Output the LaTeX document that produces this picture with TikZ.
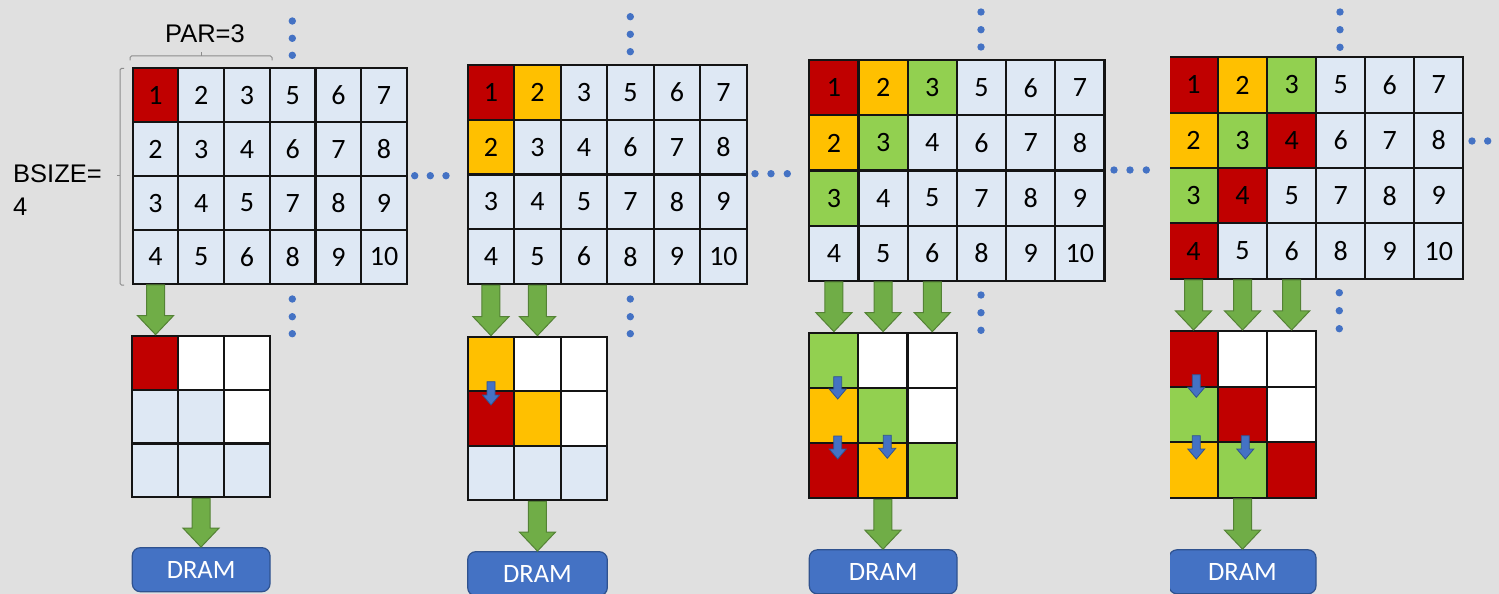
\documentclass[tikz,border=0pt]{standalone}
\usepackage{fontspec}
\setmainfont{Carlito}
\newfontfamily\arialfont{Liberation Sans}
\usetikzlibrary{calc}

\definecolor{bgc}{HTML}{E0E0E0}
\definecolor{cellblue}{HTML}{DEE8F4}
\definecolor{cred}{HTML}{C00000}
\definecolor{corange}{HTML}{FFC000}
\definecolor{cgreen}{HTML}{92D050}
\definecolor{agreen}{HTML}{70AD47}
\definecolor{agreenline}{HTML}{548235}
\definecolor{mblue}{HTML}{4472C4}
\definecolor{mblueline}{HTML}{2F528F}
\definecolor{gridline}{HTML}{141414}
\definecolor{bracec}{HTML}{8C8C8C}
\colorlet{stage0}{cellblue}
\colorlet{stage1}{cred}
\colorlet{stage2}{corange}
\colorlet{stage3}{cgreen}
\colorlet{stage4}{cred}

\tikzset{
  cell/.style={draw=gridline, line width=2.1pt, inner sep=0pt,
    font=\fontsize{28}{30}\selectfont},
  fatarrow/.style={fill=agreen, draw=agreenline, line width=1pt, line join=miter},
  thinarrow/.style={fill=mblue, draw=mblueline, line width=0.8pt},
  bdot/.style={fill=mblue},
  dram/.style={draw=mblueline, fill=mblue, line width=1.2pt, rounded corners=8pt,
    text=white, inner sep=0pt, minimum height=44pt, font=\fontsize{26.5}{28}\selectfont},
  brace/.style={draw=bracec, line width=1pt, rounded corners=1.5pt},
  lbl/.style={font=\arialfont\fontsize{25.5}{28}\selectfont, inner sep=0pt},
}

% 4x6 block of anti-diagonal indices; cells with index <= #6 in the first
% three columns are coloured by their index
\newcommand\biggrid[6]{%
  \foreach \r in {1,...,4}{\foreach \c in {1,...,6}{%
    \pgfmathtruncatemacro\cval{\c<4 ? \r+\c-1 : \r+\c}%
    \pgfmathtruncatemacro\cst{((\c<4) && (\cval<=#6)) ? \cval : 0}%
    \node[cell, fill=stage\cst, minimum width=#4pt, minimum height=#5pt]
      (#1-\r-\c) at ({#2+(\c-0.5)*#4}, {#3+(\r-0.5)*#5}) {\cval};
  }}}

% 3x3 buffer, colours given row by row
\newcommand\smallgrid[6]{%
  \foreach \cc [count=\i from 0] in {#6}{%
    \pgfmathtruncatemacro\srow{int(\i/3)+1}%
    \pgfmathtruncatemacro\scol{mod(\i,3)+1}%
    \node[cell, fill=\cc, minimum width=#4pt, minimum height=#5pt]
      (#1-\srow-\scol) at ({#2+(\scol-0.5)*#4}, {#3+(\srow-0.5)*#5}) {};
  }}

% wide downward block arrow from one anchor to another
\newcommand\fatarrow[2]{%
  \path[fatarrow] let \p1=(#1), \p2=(#2) in
    (\x1-9pt,\y1) -- (\x1-9pt,\y2+19pt) -- (\x1-18pt,\y2+19pt) -- (\x1,\y2)
    -- (\x1+18pt,\y2+19pt) -- (\x1+9pt,\y2+19pt) -- (\x1+9pt,\y1) -- cycle;}

% small blue shift arrow: x, top, tip
\newcommand\shiftarrow[3]{%
  \path[thinarrow] (#1-4,#2) -- (#1-4,#3-10) -- (#1-8.5,#3-10) -- (#1,#3)
    -- (#1+8.5,#3-10) -- (#1+4,#3-10) -- (#1+4,#2) -- cycle;}

\begin{document}
\begin{tikzpicture}[x=1pt, y=-1pt]
\useasboundingbox (0,0) rectangle (1499,594);
\fill[bgc] (0,0) rectangle (1499,594);

% ---------- labels and brackets ----------
\node[lbl, anchor=base] (par) at (205,42.7) {PAR=3};
\node[lbl, anchor=base west] (bsize) at (13,182.7) {BSIZE=};
\node[lbl, anchor=base west] (bsizeval) at (13,215) {4};
\draw[brace] (130,60.5) -- (130,56) -- (272,56) -- (272,60.5);
\draw[brace] (201,56) -- (201,52.5);
\draw[brace] (124,68.3) -- (120,68.3) -- (120,285) -- (124,285);
\draw[brace] (120,175.7) -- (116.5,175.7);

% ---------- step 1 ----------
\biggrid{A}{132.7}{68.3}{45.7}{53.9}{1}
\smallgrid{As}{132.3}{335.7}{45.8}{53.9}{cred,white,white,cellblue,cellblue,white,cellblue,cellblue,cellblue}
\node[dram, minimum width=137.7pt] (Adram) at (201.15,569.7) {DRAM};
\fatarrow{A-4-1.south}{As-1-1.north}
\fatarrow{As-3-2.south}{Adram.north}
\foreach \yy in {21,38.3,55.3} \fill[bdot] (292.3,\yy) circle[radius=3.7pt];
\foreach \yy in {299,316.7,333.7} \fill[bdot] (292.3,\yy) circle[radius=3.7pt];
\foreach \xx in {414.7,430.3,446} \fill[bdot] (\xx,175.7) circle[radius=3.7pt];

% ---------- step 2 ----------
\biggrid{B}{467.7}{65}{46.5}{54.75}{2}
\smallgrid{Bs}{467.7}{336.7}{46.5}{54.5}{corange,white,white,cred,corange,white,cellblue,cellblue,cellblue}
\node[dram, minimum width=139.6pt] (Bdram) at (537.5,573.7) {DRAM};
\fatarrow{B-4-1.south}{Bs-1-1.north}
\fatarrow{B-4-2.south}{Bs-1-2.north}
\fatarrow{Bs-3-2.south}{Bdram.north}
\shiftarrow{491}{381.7}{405}
\foreach \yy in {16.7,34.3,51.7} \fill[bdot] (630.3,\yy) circle[radius=3.7pt];
\foreach \yy in {299,316.7,333.7} \fill[bdot] (630.3,\yy) circle[radius=3.7pt];
\foreach \xx in {755,771,787.3} \fill[bdot] (\xx,173.7) circle[radius=3.7pt];

% ---------- step 3 ----------
\biggrid{C}{809.3}{60.3}{49.2}{55.1}{3}
\smallgrid{Cs}{809.3}{332.7}{49.1}{55.2}{cgreen,white,white,corange,cgreen,white,cred,corange,cgreen}
\node[dram, minimum width=147.7pt] (Cdram) at (883.15,571.8) {DRAM};
\fatarrow{C-4-1.south}{Cs-1-1.north}
\fatarrow{C-4-2.south}{Cs-1-2.north}
\fatarrow{C-4-3.south}{Cs-1-3.north}
\fatarrow{Cs-3-2.south}{Cdram.north}
\shiftarrow{837.7}{376.7}{399}
\shiftarrow{837.7}{436}{459}
\shiftarrow{887.3}{435.3}{458.3}
\foreach \yy in {12,29.7,47} \fill[bdot] (981,\yy) circle[radius=3.7pt];
\foreach \yy in {295,312.7,330.3} \fill[bdot] (981,\yy) circle[radius=3.7pt];
\foreach \xx in {1114,1130,1146.3} \fill[bdot] (\xx,170) circle[radius=3.7pt];

% ---------- step 4 (left edge trimmed) ----------
\begin{scope}
\clip (1170,0) rectangle (1499,594);
\biggrid{D}{1169}{57.3}{49.05}{55.35}{4}
\smallgrid{Ds}{1169}{331}{49}{55.6}{cred,white,white,cgreen,cred,white,corange,cgreen,cred}
\node[dram, minimum width=147pt] (Ddram) at (1242.5,571.8) {DRAM};
\fatarrow{D-4-1.south}{Ds-1-1.north}
\fatarrow{D-4-2.south}{Ds-1-2.north}
\fatarrow{D-4-3.south}{Ds-1-3.north}
\fatarrow{Ds-3-2.south}{Ddram.north}
\shiftarrow{1196.3}{374.7}{397.3}
\shiftarrow{1196.3}{435.7}{459}
\shiftarrow{1245.3}{435.7}{459}
\end{scope}
\foreach \yy in {12,29.7,47.3} \fill[bdot] (1340,\yy) circle[radius=3.7pt];
\foreach \yy in {292.7,310.7,328.7} \fill[bdot] (1339.3,\yy) circle[radius=3.7pt];
\foreach \xx in {1472,1487.7} \fill[bdot] (\xx,141) circle[radius=3.7pt];
\end{tikzpicture}
\end{document}
